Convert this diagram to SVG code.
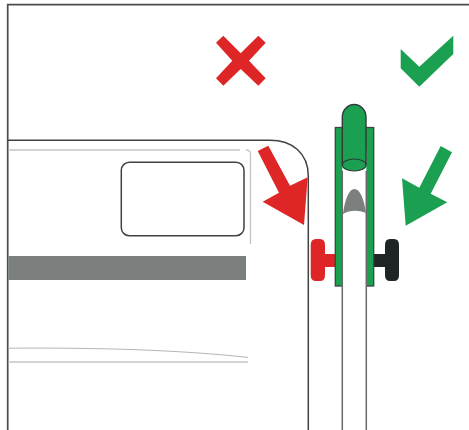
<svg xmlns="http://www.w3.org/2000/svg" width="469" height="430" viewBox="0 0 469 430">
<style>
.o{fill:none;stroke:#3f4344;stroke-width:1.5}
.l{fill:none;stroke:#c4c6c6;stroke-width:1.4}
.r{fill:#de2626}
.g{fill:#1ba052}
</style>
<rect width="469" height="430" fill="#fff"/>
<path d="M7.700 430V4.700H469" fill="none" stroke="#4a4d4e" stroke-width="1.700"/>
<g id="appliance">
<path class="o" d="M7.700 140.300H270C292 140.300 308.300 153 308.300 176V430"/>
<path class="l" d="M8.500 150H240M246 150Q250.500 150 250.500 154V244"/>
<rect class="o" x="121.300" y="162.300" width="122.700" height="73.400" rx="8" fill="#fff"/>
<rect x="8.500" y="256" width="237.500" height="24" fill="#7b807f"/>
<path d="M8.500 348.200C100 347.500 180 350 248 357.400" fill="none" stroke="#b4b7b7" stroke-width="1"/>
<path class="l" d="M8.500 362H248"/>
</g>
<g id="bolt">
<path d="M310.700 245Q310.700 239 316 239H320Q325 239 325 245V254H336V267H325V275Q325 281 320 281H316Q310.700 281 310.700 275Z" class="r"/>
<path d="M373 254H385V245Q385 239 390 239H394Q399 239 399 245V275Q399 281 394 281H390Q385 281 385 275V267H373Z" fill="#1f2426"/>
</g>
<g id="bracket">
<rect x="335.300" y="127.500" width="38.400" height="158.500" class="g" stroke="#3f4344" stroke-width="1.300"/>
<rect x="342.300" y="150" width="24" height="138" fill="#fff"/>
<path d="M342.300 165V117A11.850 12.500 0 0 1 366 117V165" class="g" stroke="#2f3a35" stroke-width="1.400"/>
<ellipse cx="354.200" cy="165" rx="11.900" ry="6" class="g" stroke="#2f3a35" stroke-width="1.200"/>
<path d="M343 214C345 199 349 189 354.500 189C360 189 364 199 366 213C358 210 350 210 343 214Z" fill="#7b807f"/>
<path d="M342.300 171V430M366.300 171V430" fill="none" stroke="#666a6b" stroke-width="1.500"/>
</g>
<g id="marks">
<path class="r" d="M216 42.700 223.300 35.700 240.700 53.300 258.300 35.700 265.700 42.700 249 60.700 265.700 78.300 258.300 85.700 240.700 69 223.300 85.700 216 78.300 232.300 60.700Z"/>
<path class="g" d="M400.700 49 419.300 66.700 453.300 35.700V54L419.300 86.700 400.700 68.300Z"/>
<path class="r" d="M257.700 151 268.300 145.700 290 185.700 307.700 177.300 304 225 262.700 201.700 279 192.700Z"/>
<path class="g" d="M440.700 146 452 152.300 430.700 193.700 447.300 202.300 405.700 225.700 402 178.300 419.300 187.700Z"/>
</g>
</svg>
